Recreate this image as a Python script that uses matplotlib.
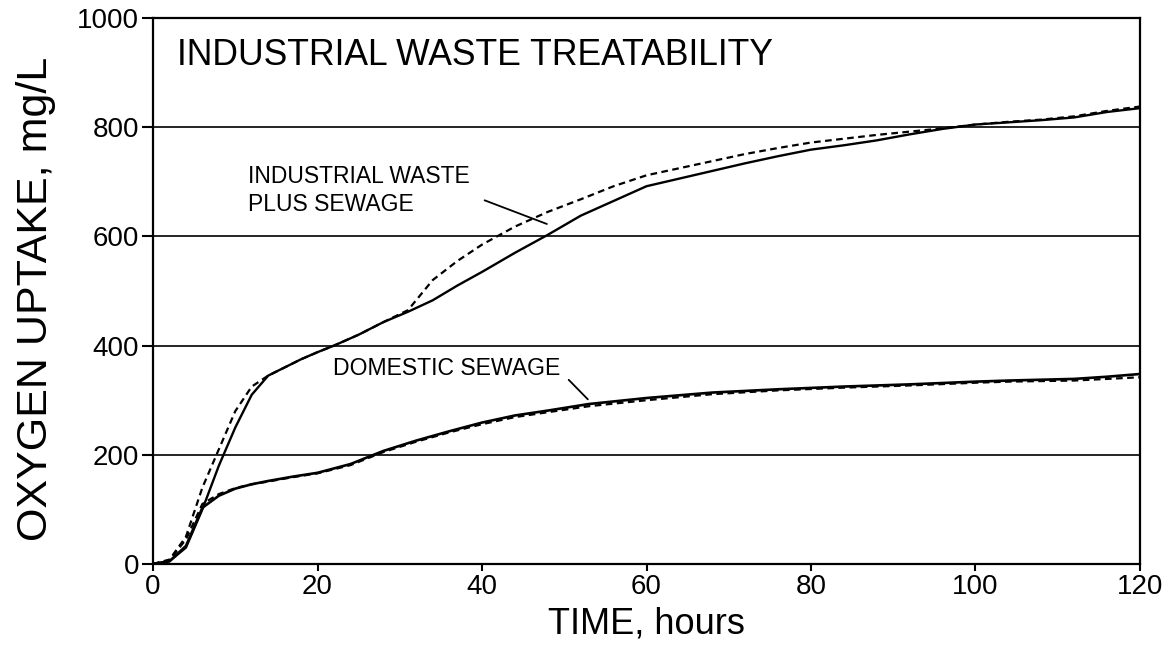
import matplotlib
matplotlib.use("Agg")
import matplotlib.pyplot as plt

# hours vs oxygen uptake (mg/L)
ind_t = [0, 2, 4, 6, 8, 10, 12, 14, 16, 18, 20, 22, 25, 28, 31, 34, 37, 40, 44, 48,
         52, 56, 60, 64, 68, 72, 76, 80, 84, 88, 92, 96, 100, 104, 108, 112, 116, 120]
ind_solid = [0, 5, 30, 100, 180, 250, 310, 345, 360, 375, 388, 400, 420, 443, 462, 483, 510, 535, 570, 603,
             638, 665, 692, 706, 720, 734, 747, 759, 767, 776, 787, 797, 805, 809, 813, 818, 828, 835]
ind_dash = [0, 8, 50, 140, 210, 280, 325, 345, 360, 375, 388, 400, 420, 443, 465, 520, 555, 585, 618, 645,
            668, 692, 712, 725, 738, 751, 762, 772, 779, 786, 792, 798, 805, 810, 814, 820, 830, 838]

dom_t = [0, 2, 4, 6, 8, 10, 12, 14, 17, 20, 24, 28, 32, 36, 40, 44, 48, 53,
         60, 68, 76, 84, 92, 100, 104, 112, 116, 120]
dom_solid = [0, 5, 33, 103, 125, 138, 146, 152, 160, 167, 183, 207, 226, 243, 259, 272, 281, 293,
             304, 314, 320, 325, 329, 334, 336, 339, 343, 348]
dom_dash = [0, 7, 45, 110, 128, 139, 146, 151, 159, 166, 181, 205, 224, 241, 256, 269, 278, 289,
            300, 311, 318, 323, 327, 332, 334, 336, 339, 342]

x_ticks = [0, 20, 40, 60, 80, 100, 120]
y_ticks = [0, 200, 400, 600, 800, 1000]

plt.rcParams["font.family"] = ["Liberation Sans", "DejaVu Sans"]

fig = plt.figure(figsize=(11.71, 6.46), dpi=100)
ax = fig.add_axes([0.1307, 0.127, 0.8428, 0.845])

for y in y_ticks[1:-1]:
    ax.axhline(y, color="black", lw=1.2, zorder=1)

ax.plot(ind_t, ind_solid, color="black", lw=1.7, zorder=3)
ax.plot(ind_t, ind_dash, color="black", lw=1.6, dashes=(3, 2), zorder=3)
ax.plot(dom_t, dom_solid, color="black", lw=1.9, zorder=3)
ax.plot(dom_t, dom_dash, color="black", lw=1.6, dashes=(3, 2), zorder=3)

ax.set_xlim(0, 120)
ax.set_ylim(0, 1000)
ax.set_xticks(x_ticks)
ax.set_yticks(y_ticks)
ax.tick_params(axis="y", direction="out", length=8, width=1.5, pad=2, labelsize=20)
ax.tick_params(axis="x", direction="out", length=5, width=1.5, pad=2, labelsize=20)
for s in ax.spines.values():
    s.set_linewidth(1.6)

ax.set_xlabel("TIME, hours", fontsize=26)
ax.xaxis.set_label_coords(0.5, -0.078)
ax.set_ylabel("OXYGEN UPTAKE, mg/L", fontsize=31)
ax.yaxis.set_label_coords(-0.098, 0.485)

ax.text(0.024, 0.914, "INDUSTRIAL WASTE TREATABILITY", transform=ax.transAxes,
        fontsize=25.6, va="baseline", ha="left")

ax.text(11.5, 731, "INDUSTRIAL WASTE\nPLUS SEWAGE", fontsize=16.5, va="top", ha="left",
        linespacing=1.28)
ax.annotate("", xy=(48.2, 621), xytext=(40.0, 668),
            arrowprops=dict(arrowstyle="-", color="black", lw=1.3))

ax.text(21.9, 346, "DOMESTIC SEWAGE", fontsize=16.6, va="baseline", ha="left")
ax.annotate("", xy=(53.1, 298), xytext=(50.3, 341),
            arrowprops=dict(arrowstyle="-", color="black", lw=1.3))

fig.savefig("out.png", dpi=100)
